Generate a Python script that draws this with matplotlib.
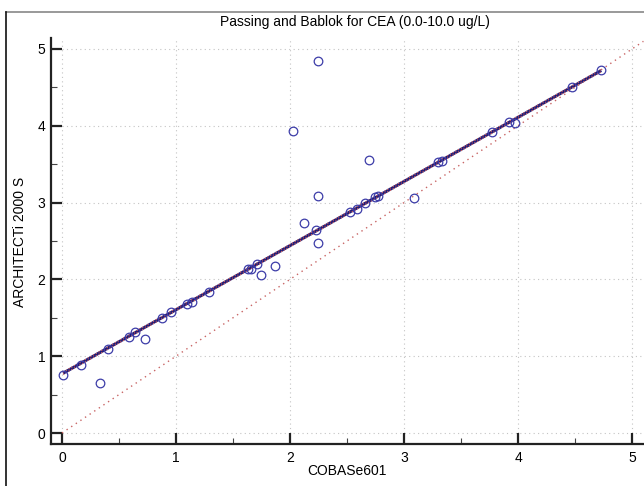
import matplotlib
matplotlib.use("Agg")
import matplotlib.pyplot as plt
from matplotlib.lines import Line2D
from matplotlib.ticker import MultipleLocator
import numpy as np

plt.rcParams['font.family'] = ['Liberation Sans', 'DejaVu Sans']

title = "Passing and Bablok for CEA (0.0-10.0 ug/L)"
x_label = "COBASe601"
y_label = "ARCHITECTi 2000 S"

cobas = [0.01, 0.17, 0.33, 0.40, 0.59, 0.64, 0.73, 0.88, 0.96, 1.10, 1.14, 1.29,
         1.63, 1.66, 1.71, 1.75, 1.87, 2.03, 2.12, 2.23, 2.25, 2.25, 2.25,
         2.53, 2.59, 2.66, 2.69, 2.75, 2.77, 3.09, 3.30, 3.33, 3.77, 3.92, 3.97,
         4.47, 4.73]
architect = [0.76, 0.89, 0.65, 1.10, 1.25, 1.31, 1.23, 1.50, 1.58, 1.68, 1.71, 1.84,
             2.13, 2.14, 2.20, 2.06, 2.17, 3.93, 2.73, 2.64, 4.85, 3.09, 2.48,
             2.88, 2.92, 2.99, 3.55, 3.07, 3.09, 3.06, 3.53, 3.54, 3.92, 4.05, 4.03,
             4.51, 4.73]

intercept = 0.77
slope = 0.835
ci_offset = 0.015
ticks = [0, 1, 2, 3, 4, 5]

W, H = 644, 486
fig = plt.figure(figsize=(W / 100, H / 100), dpi=100)
ax = fig.add_axes([51 / W, 1 - 444 / H, (W - 51) / W, (444 - 38) / H])

xmin, xmax = -0.096, 5.105
ymin, ymax = -0.143, 5.143
ax.set_xlim(xmin, xmax)
ax.set_ylim(ymin, ymax)

# grid
for t in ticks:
    ax.plot([t, t], [0, ymax], color="#c4c4c4", lw=0.8, ls=(0, (1, 3)), zorder=0)
    ax.plot([0, xmax], [t, t], color="#c4c4c4", lw=0.8, ls=(0, (1, 3)), zorder=0)

# identity line
xi = np.array([0.0, 5.1])
ax.plot(xi, xi, color="#c86464", lw=1.0, ls=(0, (1, 3)), zorder=2)

# regression line
xr = np.array([min(cobas), max(cobas)])
ax.plot(xr, intercept + slope * xr, color="#1c1c78", lw=2.2, zorder=3,
        solid_capstyle="butt")
ax.plot(xr, intercept + ci_offset + slope * xr, color="#d06060", lw=0.9,
        ls=(0, (1, 1.5)), zorder=4)
ax.plot(xr, intercept - ci_offset + slope * xr, color="#d06060", lw=0.9,
        ls=(0, (1, 1.5)), zorder=4)

# points
ax.plot(cobas, architect, ls="none", marker="o", markersize=6.2,
        markerfacecolor="none", markeredgecolor="#3c3ca8", markeredgewidth=0.9,
        zorder=5)

# axes style
for s in ["top", "right"]:
    ax.spines[s].set_visible(False)
for s in ["left", "bottom"]:
    ax.spines[s].set_linewidth(1.6)
    ax.spines[s].set_color("#222222")
ax.set_xticks(ticks)
ax.set_yticks(ticks)
ax.xaxis.set_minor_locator(MultipleLocator(0.5))
ax.yaxis.set_minor_locator(MultipleLocator(0.5))
ax.tick_params(which="major", direction="in", length=8, width=1.6, color="#222222",
               labelsize=10, pad=5)
ax.tick_params(which="minor", direction="in", length=4, width=0.8, color="#444444")
ax.tick_params(axis="y", which="major", pad=4)
ax.set_facecolor("white")

fig.text(355 / W, 1 - 22 / H, title, ha="center", va="center", fontsize=10)
fig.text(347 / W, 1 - 471 / H, x_label, ha="center", va="center", fontsize=10)
fig.text(20 / W, 1 - 242 / H, y_label, ha="center", va="center", fontsize=10,
         rotation=90)

# outer frame
fig.add_artist(Line2D([6 / W, 1.0], [1 - 12 / H, 1 - 12 / H], color="#888888",
                      lw=1.2, transform=fig.transFigure))
fig.add_artist(Line2D([6 / W, 6 / W], [1 - 12 / H, 0.0], color="#111111",
                      lw=1.2, transform=fig.transFigure))

fig.savefig("out.png", dpi=100)
